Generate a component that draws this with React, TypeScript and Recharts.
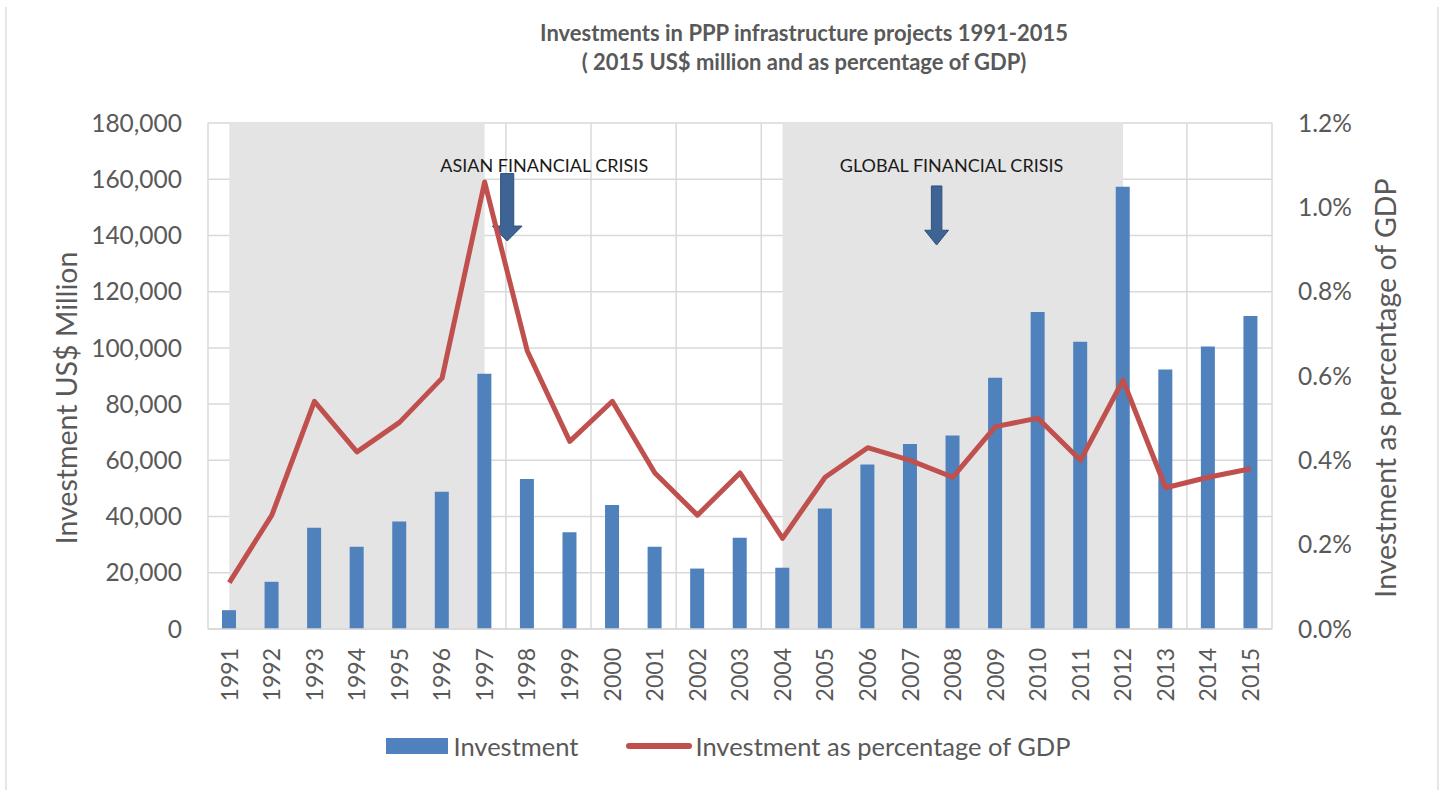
import React from 'react';
import {
  ComposedChart,
  Bar,
  Line,
  XAxis,
  YAxis,
  CartesianGrid,
  ReferenceArea,
  ReferenceDot,
  Legend,
} from 'recharts';

const years = [
  1991, 1992, 1993, 1994, 1995, 1996, 1997, 1998, 1999, 2000, 2001, 2002, 2003,
  2004, 2005, 2006, 2007, 2008, 2009, 2010, 2011, 2012, 2013, 2014, 2015,
];

const investment = [
  6700, 16800, 36000, 29300, 38200, 48800, 90800, 53400, 34400, 44100, 29300,
  21500, 32500, 21800, 42900, 58500, 65800, 68800, 89400, 112800, 102200,
  157300, 92300, 100500, 111300,
];

const gdpShare = [
  0.11, 0.27, 0.54, 0.42, 0.49, 0.595, 1.06, 0.66, 0.445, 0.54, 0.37, 0.27,
  0.37, 0.215, 0.36, 0.43, 0.4, 0.36, 0.48, 0.5, 0.4, 0.59, 0.335, 0.36, 0.38,
];

const leftTicks = [0, 20000, 40000, 60000, 80000, 100000, 120000, 140000, 160000, 180000];
const rightTicks = [0, 0.2, 0.4, 0.6, 0.8, 1.0, 1.2];

// crisis periods (shaded) and annotations
const asianCrisis = { from: 1991, to: 1997, label: 'ASIAN FINANCIAL CRISIS', labelYear: 1998.4, arrowYear: 1997.53, arrowTop: 162000, arrowTip: 138000, arrowHalf: 0.35 };
const globalCrisis = { from: 2004, to: 2012, label: 'GLOBAL FINANCIAL CRISIS', labelYear: 2007.97, arrowYear: 2007.62, arrowTop: 157600, arrowTip: 136600, arrowHalf: 0.28 };
const annotationLevel = 165200;

const gridYearTicks = [...years.map((y) => y - 0.5), 2015.5];

const data = years.map((y, i) => ({
  year: String(y),
  yr: y,
  investment: investment[i],
  gdp: gdpShare[i],
}));

const FONT = "Lato, 'Open Sans', 'DejaVu Sans', sans-serif";
const GREY = '#595959';
const BLUE = '#4f81bd';
const RED = '#c0504d';
const ARROW = '#3d6494';

const XTick = (props: any) => {
  const { x, y, payload } = props;
  const ty = y + 11;
  return (
    <text
      x={x}
      y={ty}
      transform={`rotate(-90 ${x} ${ty})`}
      textAnchor="end"
      dy="0.36em"
      fill={GREY}
      fontSize={23}
      fontFamily={FONT}
    >
      {payload.value}
    </text>
  );
};

const ArrowShape = (props: any) => {
  const { x, y, width, height } = props;
  if (x == null || y == null) return null;
  const cx = x + width / 2;
  const shaftHalf = width * 0.22;
  const headH = Math.min(15, height * 0.25);
  const top = y;
  const tip = y + height;
  const headTop = tip - headH;
  const d = `M ${cx - shaftHalf} ${top} L ${cx + shaftHalf} ${top} L ${cx + shaftHalf} ${headTop} L ${x + width} ${headTop} L ${cx} ${tip} L ${x} ${headTop} L ${cx - shaftHalf} ${headTop} Z`;
  return <path d={d} fill={ARROW} stroke="#2f5078" strokeWidth={1} />;
};

const makeLabelShape = (text: string) => (props: any) => {
  const { cx, cy } = props;
  return (
    <text
      x={cx}
      y={cy}
      textAnchor="middle"
      dominantBaseline="central"
      fill="#1a1a1a"
      fontSize={18}
      fontFamily={FONT}
    >
      {text}
    </text>
  );
};

const LeftTitle = (props: any) => {
  const vb = props.viewBox || { x: 0, y: 123, width: 208, height: 506 };
  const x = vb.x + 66;
  const y = vb.y + vb.height / 2 + 22;
  return (
    <text
      x={x}
      y={y}
      transform={`rotate(-90 ${x} ${y})`}
      textAnchor="middle"
      dominantBaseline="central"
      fill={GREY}
      fontSize={28.5}
      fontFamily={FONT}
    >
      Investment US$ Million
    </text>
  );
};

const RightTitle = (props: any) => {
  const vb = props.viewBox || { x: 1272, y: 123, width: 171, height: 506 };
  const x = vb.x + 113;
  const y = vb.y + vb.height / 2 + 12;
  return (
    <text
      x={x}
      y={y}
      transform={`rotate(-90 ${x} ${y})`}
      textAnchor="middle"
      dominantBaseline="central"
      fill={GREY}
      fontSize={28.5}
      fontFamily={FONT}
    >
      Investment as percentage of GDP
    </text>
  );
};

const LegendContent = (props: any) => {
  const payload = props.payload || [];
  return (
    <div
      style={{
        display: 'flex',
        justifyContent: 'center',
        alignItems: 'center',
        fontFamily: FONT,
        fontSize: 25.5,
        color: GREY,
        lineHeight: '30px',
      }}
    >
      {payload.map((item: any, i: number) => (
        <div key={i} style={{ display: 'flex', alignItems: 'center', marginLeft: i === 0 ? 0 : 48 }}>
          {item.type === 'line' ? (
            <svg width={66} height={10} style={{ marginRight: 3 }}>
              <line x1={3} y1={5} x2={63} y2={5} stroke={item.color} strokeWidth={6} strokeLinecap="round" />
            </svg>
          ) : (
            <span style={{ display: 'inline-block', width: 62, height: 16, background: item.color, marginRight: 5 }} />
          )}
          <span>{item.value}</span>
        </div>
      ))}
    </div>
  );
};

export default function App() {
  return (
    <div style={{ position: 'absolute', left: 0, top: 0, width: 1443, height: 790, background: '#ffffff' }}>
      <div
        style={{
          position: 'absolute',
          left: 5,
          top: 7,
          width: 1430,
          height: 783,
          borderLeft: '2px solid #e6e6e6',
          borderRight: '2px solid #e6e6e6',
        }}
      />
      <div
        style={{
          position: 'absolute',
          left: 404,
          width: 800,
          top: 18,
          textAlign: 'center',
          fontFamily: FONT,
          fontWeight: 700,
          fontSize: 22,
          lineHeight: '29px',
          color: GREY,
        }}
      >
        <div>Investments in PPP infrastructure projects 1991-2015</div>
        <div>( 2015 US$ million and as percentage of GDP)</div>
      </div>
      <div style={{ position: 'absolute', left: 0, top: 0 }}>
        <ComposedChart
          width={1443}
          height={790}
          data={data}
          margin={{ top: 123, right: 0, bottom: 71, left: 0 }}
        >
          <XAxis
            dataKey="year"
            xAxisId="cat"
            height={90}
            interval={0}
            tickLine={false}
            axisLine={{ stroke: '#d9d9d9', strokeWidth: 1.5 }}
            tick={<XTick />}
          />
          <XAxis
            xAxisId="yr"
            dataKey="yr"
            type="number"
            domain={[1990.5, 2015.5]}
            ticks={gridYearTicks}
            allowDataOverflow
            hide
          />
          <YAxis
            yAxisId="left"
            orientation="left"
            width={208}
            domain={[0, 180000]}
            ticks={leftTicks}
            interval={0}
            tickLine={false}
            axisLine={false}
            tickSize={0}
            tickMargin={26}
            tick={{ fill: GREY, fontSize: 24.5, fontFamily: FONT }}
            tickFormatter={(v: number) => v.toLocaleString('en-US')}
            label={LeftTitle}
          />
          <YAxis
            yAxisId="right"
            orientation="right"
            width={171}
            domain={[0, 1.2]}
            ticks={rightTicks}
            interval={0}
            tickLine={false}
            axisLine={false}
            tickSize={0}
            tickMargin={26}
            tick={{ fill: GREY, fontSize: 24.5, fontFamily: FONT }}
            tickFormatter={(v: number) => `${v.toFixed(1)}%`}
            label={RightTitle}
          />
          <CartesianGrid
            xAxisId="yr"
            yAxisId="left"
            stroke="#d9d9d9"
            strokeWidth={1.5}
          />
          <ReferenceArea
            xAxisId="yr"
            yAxisId="left"
            x1={asianCrisis.from}
            x2={asianCrisis.to}
            fill="#e4e4e4"
            fillOpacity={1}
            stroke="none"
          />
          <ReferenceArea
            xAxisId="yr"
            yAxisId="left"
            x1={globalCrisis.from}
            x2={globalCrisis.to}
            fill="#e4e4e4"
            fillOpacity={1}
            stroke="none"
          />
          <Bar
            xAxisId="cat"
            yAxisId="left"
            dataKey="investment"
            name="Investment"
            fill={BLUE}
            barSize={14}
            isAnimationActive={false}
            legendType="rect"
          />
          <Line
            xAxisId="cat"
            yAxisId="right"
            dataKey="gdp"
            name="Investment as percentage of GDP"
            stroke={RED}
            strokeWidth={5}
            strokeLinejoin="round"
            dot={false}
            activeDot={false}
            type="linear"
            isAnimationActive={false}
            legendType="line"
          />
          <ReferenceArea
            xAxisId="yr"
            yAxisId="left"
            x1={asianCrisis.arrowYear - asianCrisis.arrowHalf}
            x2={asianCrisis.arrowYear + asianCrisis.arrowHalf}
            y1={asianCrisis.arrowTip}
            y2={asianCrisis.arrowTop}
            shape={ArrowShape}
          />
          <ReferenceArea
            xAxisId="yr"
            yAxisId="left"
            x1={globalCrisis.arrowYear - globalCrisis.arrowHalf}
            x2={globalCrisis.arrowYear + globalCrisis.arrowHalf}
            y1={globalCrisis.arrowTip}
            y2={globalCrisis.arrowTop}
            shape={ArrowShape}
          />
          <ReferenceDot
            xAxisId="yr"
            yAxisId="left"
            x={asianCrisis.labelYear}
            y={annotationLevel}
            r={1}
            shape={makeLabelShape(asianCrisis.label)}
          />
          <ReferenceDot
            xAxisId="yr"
            yAxisId="left"
            x={globalCrisis.labelYear}
            y={annotationLevel}
            r={1}
            shape={makeLabelShape(globalCrisis.label)}
          />
          <Legend
            layout="horizontal"
            verticalAlign="middle"
            align="center"
            wrapperStyle={{ top: 731, left: 7, width: 1443, height: 32 }}
            content={<LegendContent />}
          />
        </ComposedChart>
      </div>
    </div>
  );
}
